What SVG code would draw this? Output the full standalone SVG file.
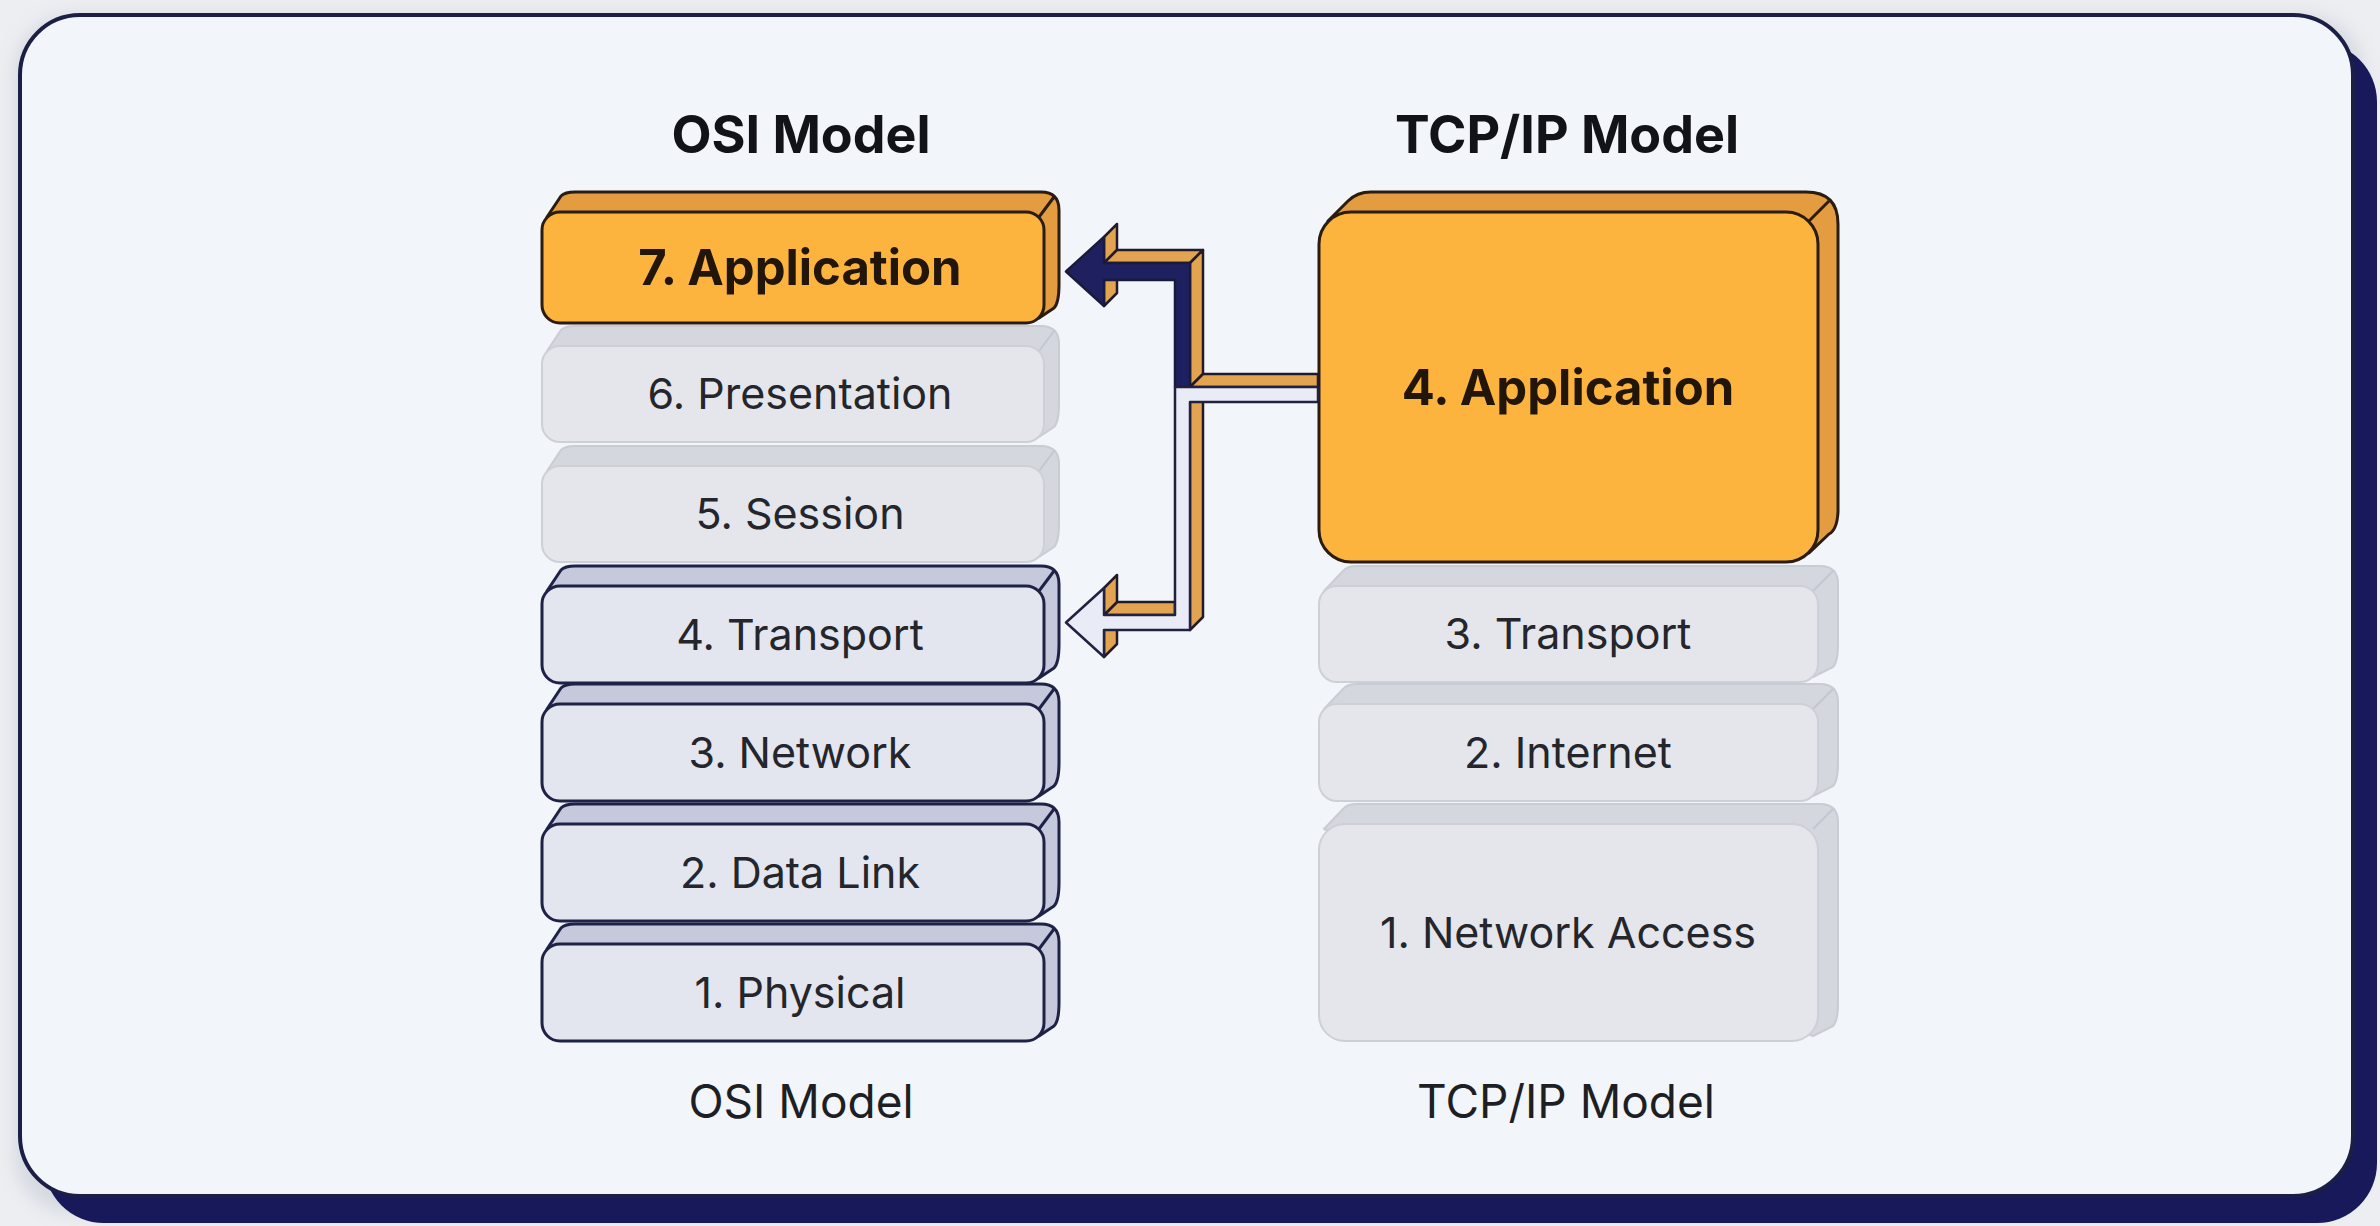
<svg xmlns="http://www.w3.org/2000/svg" width="2380" height="1226" viewBox="0 0 2380 1226">
  <defs>
    <filter id="soft" x="-5%" y="-5%" width="110%" height="110%">
      <feGaussianBlur stdDeviation="8"/>
    </filter>
  </defs>
  <style>
    .title { font-family: Inter, "Liberation Sans", sans-serif; font-weight: 700; font-size: 52px; fill: #111318; text-anchor: middle; }
    .cap { font-family: Inter, "Liberation Sans", sans-serif; font-weight: 400; font-size: 46px; fill: #1d1f24; text-anchor: middle; }
    .lbl { font-family: Inter, "Liberation Sans", sans-serif; font-weight: 400; font-size: 43px; fill: #24262b; text-anchor: middle; }
    .lblb { font-family: Inter, "Liberation Sans", sans-serif; font-weight: 700; font-size: 49px; fill: #22160b; text-anchor: middle; }
    .o-side { fill: #e39c3f; stroke: #2a1c10; stroke-width: 3; stroke-linejoin: round; }
    .o-front { fill: #fdb43f; stroke: #2a1c10; stroke-width: 3; }
    .o-edge { stroke: #2a1c10; stroke-width: 3; }
    .g-side { fill: #d4d7de; stroke: #c9ccd3; stroke-width: 2; stroke-linejoin: round; }
    .g-front { fill: #e4e6eb; stroke: #cdd0d6; stroke-width: 2; }
    .g-edge { stroke: #c4c7cf; stroke-width: 2; }
    .n-side { fill: #c6c9db; stroke: #1f2247; stroke-width: 3; stroke-linejoin: round; }
    .n-front { fill: #e3e5ef; stroke: #1f2247; stroke-width: 3; }
    .n-edge { stroke: #1f2247; stroke-width: 3; }
    .c-side { fill: #e2a451; stroke: #22192a; stroke-width: 2.5; stroke-linejoin: round; }
    .c-navy { fill: #1e2060; stroke: #1a1a3a; stroke-width: 2.5; stroke-linejoin: round; }
    .c-light { fill: #e9ecf7; stroke: #22213f; stroke-width: 2.5; stroke-linejoin: round; }
  </style>

  <rect x="0" y="0" width="2380" height="1226" fill="#eceef1"/>
  <g id="panel">
    <rect x="14" y="14" width="2350" height="1200" rx="60" fill="#c9ccd8" filter="url(#soft)" opacity="0.6"/>
    <rect x="44" y="42" width="2333" height="1181" rx="60" fill="#17195a"/>
    <rect x="20" y="15" width="2333" height="1181" rx="60" fill="#f2f5f9" stroke="#1b1f45" stroke-width="4"/>
  </g>

  <text class="title" x="801" y="153">OSI Model</text>
  <text class="title" x="1567" y="153">TCP/IP Model</text>

  <!-- OSI stack -->
  <g id="osi-1" transform="translate(542,944)">
    <path class="n-side" d="M5,5 L19,-16 Q23,-20 33,-20 L499,-20 Q517,-20 517,-2 L517,59 Q517,77 512,82 L497,92 Z"/>
    <line class="n-edge" x1="497" y1="5" x2="512" y2="-15"/>
    <rect class="n-front" x="0" y="0" width="502" height="97" rx="18"/>
    <text class="lbl" x="258" y="64">1. Physical</text>
  </g>
  <g id="osi-2" transform="translate(542,824)">
    <path class="n-side" d="M5,5 L19,-16 Q23,-20 33,-20 L499,-20 Q517,-20 517,-2 L517,59 Q517,77 512,82 L497,92 Z"/>
    <line class="n-edge" x1="497" y1="5" x2="512" y2="-15"/>
    <rect class="n-front" x="0" y="0" width="502" height="97" rx="18"/>
    <text class="lbl" x="258" y="64">2. Data Link</text>
  </g>
  <g id="osi-3" transform="translate(542,704)">
    <path class="n-side" d="M5,5 L19,-16 Q23,-20 33,-20 L499,-20 Q517,-20 517,-2 L517,59 Q517,77 512,82 L497,92 Z"/>
    <line class="n-edge" x1="497" y1="5" x2="512" y2="-15"/>
    <rect class="n-front" x="0" y="0" width="502" height="97" rx="18"/>
    <text class="lbl" x="258" y="64">3. Network</text>
  </g>
  <g id="osi-4" transform="translate(542,586)">
    <path class="n-side" d="M5,5 L19,-16 Q23,-20 33,-20 L499,-20 Q517,-20 517,-2 L517,59 Q517,77 512,82 L497,92 Z"/>
    <line class="n-edge" x1="497" y1="5" x2="512" y2="-15"/>
    <rect class="n-front" x="0" y="0" width="502" height="97" rx="18"/>
    <text class="lbl" x="258" y="64">4. Transport</text>
  </g>
  <g id="osi-5" transform="translate(542,466)">
    <path class="g-side" d="M5,5 L19,-16 Q23,-20 33,-20 L499,-20 Q517,-20 517,-2 L517,58 Q517,76 512,81 L497,91 Z"/>
    <line class="g-edge" x1="497" y1="5" x2="512" y2="-15"/>
    <rect class="g-front" x="0" y="0" width="502" height="96" rx="18"/>
    <text class="lbl" x="258" y="63">5. Session</text>
  </g>
  <g id="osi-6" transform="translate(542,346)">
    <path class="g-side" d="M5,5 L19,-16 Q23,-20 33,-20 L499,-20 Q517,-20 517,-2 L517,58 Q517,76 512,81 L497,91 Z"/>
    <line class="g-edge" x1="497" y1="5" x2="512" y2="-15"/>
    <rect class="g-front" x="0" y="0" width="502" height="96" rx="18"/>
    <text class="lbl" x="258" y="63">6. Presentation</text>
  </g>
  <g id="osi-7" transform="translate(542,212)">
    <path class="o-side" d="M5,5 L19,-16 Q23,-20 33,-20 L499,-20 Q517,-20 517,-2 L517,73 Q517,91 512,96 L497,106 Z"/>
    <line class="o-edge" x1="497" y1="5" x2="512" y2="-15"/>
    <rect class="o-front" x="0" y="0" width="502" height="111" rx="18"/>
    <text class="lblb" x="258" y="73">7. Application</text>
  </g>

  <!-- TCP/IP stack -->
  <g id="tcp-1" transform="translate(1319,824)">
    <path class="g-side" d="M5,5 L24,-15 Q28,-20 38,-20 L501,-20 Q519,-20 519,-2 L519,179 Q519,197 514,202 L494,212 Z"/>
    <line class="g-edge" x1="494" y1="5" x2="514" y2="-15"/>
    <rect class="g-front" x="0" y="0" width="499" height="217" rx="26"/>
    <text class="lbl" x="249" y="124">1. Network Access</text>
  </g>
  <g id="tcp-2" transform="translate(1319,704)">
    <path class="g-side" d="M5,5 L24,-15 Q28,-20 38,-20 L501,-20 Q519,-20 519,-2 L519,59 Q519,77 514,82 L494,92 Z"/>
    <line class="g-edge" x1="494" y1="5" x2="514" y2="-15"/>
    <rect class="g-front" x="0" y="0" width="499" height="97" rx="18"/>
    <text class="lbl" x="249" y="64">2. Internet</text>
  </g>
  <g id="tcp-3" transform="translate(1319,586)">
    <path class="g-side" d="M5,5 L24,-15 Q28,-20 38,-20 L501,-20 Q519,-20 519,-2 L519,58 Q519,76 514,81 L494,91 Z"/>
    <line class="g-edge" x1="494" y1="5" x2="514" y2="-15"/>
    <rect class="g-front" x="0" y="0" width="499" height="96" rx="18"/>
    <text class="lbl" x="249" y="63">3. Transport</text>
  </g>
  <g id="tcp-4" transform="translate(1319,212)">
    <path class="o-side" d="M9,9 L29,-11 Q38,-20 52,-20 L487,-20 Q519,-20 519,12 L519,300 Q518,318 510,322 L490,341 Z"/>
    <line class="o-edge" x1="490" y1="9" x2="510" y2="-11"/>
    <rect class="o-front" x="0" y="0" width="499" height="350" rx="32"/>
    <text class="lblb" x="249" y="193">4. Application</text>
  </g>

  <!-- Connectors -->
  <g id="connectors">
    <polygon class="c-side" points="1104,237 1117,224 1117,250 1104,263"/>
    <polygon class="c-side" points="1104,280 1117,267 1117,293 1104,306"/>
    <polygon class="c-side" points="1104,263 1117,250 1203,250 1190,263"/>
    <polygon class="c-side" points="1190,387 1203,374 1203,250 1190,263"/>
    <polygon class="c-side" points="1190,387 1203,374 1318,374 1318,387"/>
    <polygon class="c-side" points="1190,402 1203,389 1203,617 1190,630"/>
    <polygon class="c-side" points="1104,615 1117,602 1175,602 1175,615"/>
    <polygon class="c-side" points="1104,588 1117,575 1117,602 1104,615"/>
    <polygon class="c-side" points="1104,630 1117,617 1117,644 1104,657"/>
    <polygon class="c-navy" points="1066,271.5 1104,237 1104,263 1190,263 1190,387 1175,387 1175,280 1104,280 1104,306"/>
    <polygon class="c-light" points="1175,387 1318,387 1318,402 1190,402 1190,630 1104,630 1104,657 1066,622.5 1104,588 1104,615 1175,615"/>
  </g>

  <text class="cap" x="801" y="1118">OSI Model</text>
  <text class="cap" x="1566" y="1118">TCP/IP Model</text>
</svg>
